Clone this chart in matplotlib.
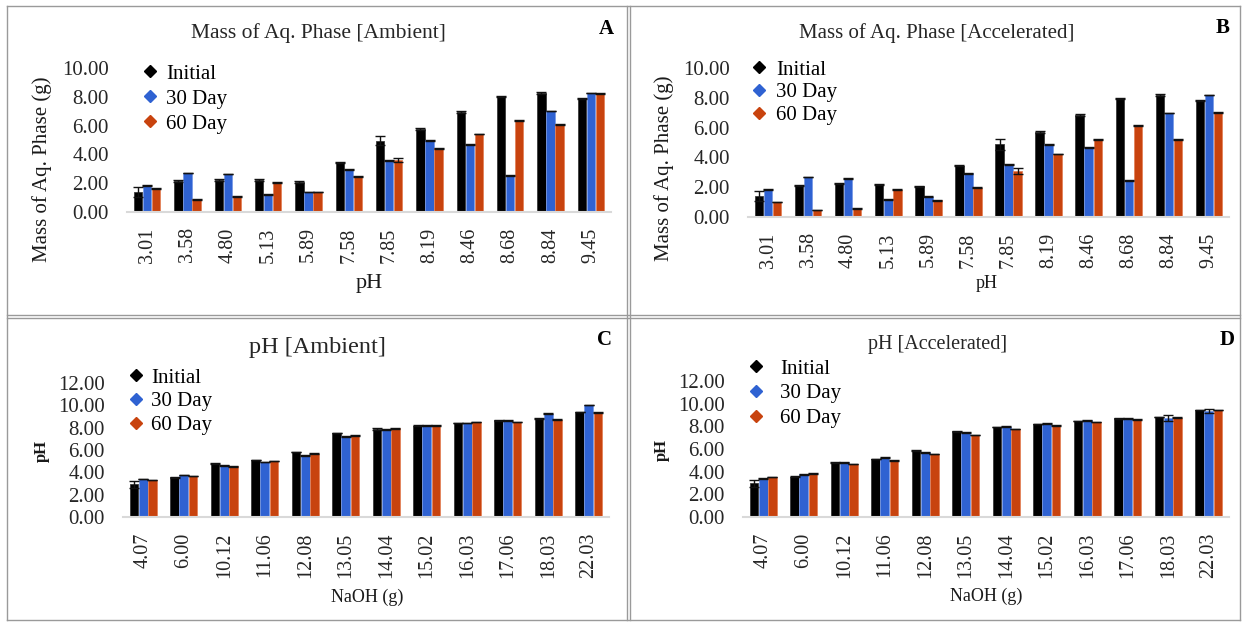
import numpy as np
import matplotlib
matplotlib.use('Agg')
import matplotlib.pyplot as plt
from matplotlib.lines import Line2D

plt.rcParams['font.family'] = ['Liberation Serif', 'DejaVu Serif']

# ---- data ----
ph_labels = ['3.01', '3.58', '4.80', '5.13', '5.89', '7.58', '7.85', '8.19', '8.46', '8.68', '8.84', '9.45']
naoh_labels = ['4.07', '6.00', '10.12', '11.06', '12.08', '13.05', '14.04', '15.02', '16.03', '17.06', '18.03', '22.03']
series_names = ['Initial', '30 Day', '60 Day']

# A: mass of aq. phase, ambient
mass_amb_init = [1.39, 2.15, 2.22, 2.22, 2.08, 3.45, 4.95, 5.76, 6.94, 8.01, 8.26, 7.89]
mass_amb_30 = [1.85, 2.71, 2.64, 1.20, 1.39, 2.94, 3.59, 4.98, 4.68, 2.52, 7.01, 8.26]
mass_amb_60 = [1.62, 0.88, 1.09, 2.04, 1.39, 2.45, 3.62, 4.42, 5.42, 6.34, 6.09, 8.22]
mass_amb_init_err = [0.37, 0.04, 0.04, 0.04, 0.04, 0.04, 0.30, 0.04, 0.04, 0.04, 0.04, 0.04]
mass_amb_30_err = [0.02, 0.02, 0.02, 0.02, 0.02, 0.02, 0.02, 0.02, 0.02, 0.02, 0.02, 0.02]
mass_amb_60_err = [0.03, 0.03, 0.03, 0.03, 0.03, 0.03, 0.15, 0.03, 0.03, 0.03, 0.03, 0.03]

# B: mass of aq. phase, accelerated
mass_acc_init = [1.41, 2.13, 2.24, 2.17, 2.06, 3.45, 4.88, 5.70, 6.85, 7.94, 8.19, 7.83]
mass_acc_30 = [1.86, 2.68, 2.57, 1.19, 1.36, 2.93, 3.51, 4.88, 4.65, 2.46, 6.98, 8.19]
mass_acc_60 = [1.01, 0.47, 0.56, 1.83, 1.12, 1.95, 3.09, 4.23, 5.21, 6.13, 5.21, 7.02]
mass_acc_init_err = [0.31, 0.04, 0.04, 0.04, 0.04, 0.04, 0.36, 0.04, 0.04, 0.04, 0.04, 0.04]
mass_acc_30_err = [0.02, 0.02, 0.02, 0.02, 0.02, 0.02, 0.02, 0.02, 0.02, 0.02, 0.02, 0.02]
mass_acc_60_err = [0.03, 0.03, 0.03, 0.03, 0.03, 0.03, 0.20, 0.03, 0.03, 0.03, 0.03, 0.03]

# C: pH, ambient
ph_amb_init = [2.93, 3.55, 4.78, 5.10, 5.82, 7.52, 7.88, 8.18, 8.42, 8.66, 8.81, 9.40]
ph_amb_30 = [3.40, 3.76, 4.63, 4.93, 5.52, 7.22, 7.85, 8.18, 8.42, 8.66, 9.25, 10.03]
ph_amb_60 = [3.31, 3.67, 4.54, 5.01, 5.67, 7.31, 7.94, 8.18, 8.51, 8.51, 8.72, 9.34]
ph_amb_init_err = [0.30, 0.03, 0.03, 0.03, 0.03, 0.03, 0.10, 0.03, 0.03, 0.03, 0.03, 0.03]
ph_amb_30_err = [0.02, 0.02, 0.02, 0.02, 0.02, 0.02, 0.02, 0.02, 0.02, 0.02, 0.02, 0.02]
ph_amb_60_err = [0.02, 0.02, 0.02, 0.02, 0.02, 0.02, 0.02, 0.02, 0.02, 0.02, 0.02, 0.02]

# D: pH, accelerated
ph_acc_init = [2.96, 3.55, 4.78, 5.13, 5.89, 7.57, 7.95, 8.21, 8.48, 8.71, 8.83, 9.44]
ph_acc_30 = [3.40, 3.78, 4.81, 5.22, 5.72, 7.42, 7.95, 8.24, 8.53, 8.71, 8.74, 9.33]
ph_acc_60 = [3.55, 3.84, 4.66, 4.99, 5.57, 7.24, 7.77, 8.09, 8.39, 8.62, 8.77, 9.44]
ph_acc_init_err = [0.30, 0.03, 0.03, 0.03, 0.03, 0.03, 0.03, 0.03, 0.03, 0.03, 0.03, 0.03]
ph_acc_30_err = [0.04, 0.04, 0.04, 0.04, 0.04, 0.04, 0.04, 0.04, 0.04, 0.04, 0.30, 0.17]
ph_acc_60_err = [0.02, 0.02, 0.02, 0.02, 0.02, 0.02, 0.02, 0.02, 0.02, 0.02, 0.02, 0.02]

colors = ['#000000', '#2F62D2', '#C8430E']
edges = ['#3a3a3a', '#7a9be6', '#e3835a']

W, H = 1244, 623
fig = plt.figure(figsize=(W / 100, H / 100), dpi=100)


def box(l, t, r, b):
    # axes rectangle from pixel edges
    return [l / W, 1 - b / H, (r - l) / W, (b - t) / H]


def ftext(x, y, s, **kw):
    fig.text(x / W, 1 - y / H, s, ha='center', va='center', **kw)


def panel(rect, labels, vals, errs, ymax, title, title_xy, title_fs,
          letter_xy, letter, ylabel, ylabel_xy, ylabel_fs, ylabel_bold,
          xlabel, xlabel_xy, xlabel_fs, leg_xy, leg_pad, leg_space):
    ax = fig.add_axes(box(*rect))
    x = np.arange(len(labels))
    w = 0.21
    offs = [-0.225, 0, 0.225]
    for i in range(3):
        ax.bar(x + offs[i], vals[i], w, color=colors[i], edgecolor=edges[i], linewidth=0.6,
               yerr=errs[i], error_kw=dict(ecolor='#111111', elinewidth=1.0, capsize=3.5, capthick=1.0),
               zorder=2)
    yt = np.arange(0, ymax + 0.01, 2)
    ax.set_xlim(-0.5, len(labels) - 0.5)
    ax.set_ylim(0, ymax)
    ax.set_yticks(yt)
    ax.set_yticklabels(['{0:.2f}'.format(v) for v in yt], fontsize=15)
    ax.set_xticks(x)
    ax.set_xticklabels(labels, rotation=90, fontsize=14.5)
    ax.tick_params(axis='y', length=0, pad=13, colors='#262626')
    ax.tick_params(axis='x', length=0, pad=11, colors='#262626')
    for s in ['top', 'right', 'left']:
        ax.spines[s].set_visible(False)
    ax.spines['bottom'].set_color('#D9D9D9')
    ax.spines['bottom'].set_linewidth(1.5)
    ax.patch.set_alpha(0)

    ftext(title_xy[0], title_xy[1], title, fontsize=title_fs, color='#262626')
    ftext(letter_xy[0], letter_xy[1], letter, fontsize=15, fontweight='bold')
    fig.text(ylabel_xy[0] / W, 1 - ylabel_xy[1] / H, ylabel, ha='center', va='center', rotation=90,
             fontsize=ylabel_fs, fontweight='bold' if ylabel_bold else 'normal', color='#1a1a1a')
    ftext(xlabel_xy[0], xlabel_xy[1], xlabel, fontsize=xlabel_fs, color='#1a1a1a')

    handles = [Line2D([], [], marker='D', linestyle='none', markersize=6.5,
                      markerfacecolor=c, markeredgecolor=c) for c in colors]
    ax.legend(handles, series_names, loc='upper left', bbox_to_anchor=(leg_xy[0] / W, 1 - leg_xy[1] / H),
              bbox_transform=fig.transFigure, frameon=False, fontsize=15, borderpad=0,
              handlelength=1.0, handletextpad=leg_pad, labelspacing=leg_space, borderaxespad=0)
    return ax


panel((127, 68, 611, 212), ph_labels,
      [mass_amb_init, mass_amb_30, mass_amb_60],
      [mass_amb_init_err, mass_amb_30_err, mass_amb_60_err],
      10, 'Mass of Aq. Phase [Ambient]', (318, 33), 15.5, (606, 29), 'A',
      'Mass of Aq. Phase (g)', (42, 169), 15, False, 'pH', (369, 283), 16, (140, 64), 0.27, 0.26)

panel((748, 68, 1229, 217), ph_labels,
      [mass_acc_init, mass_acc_30, mass_acc_60],
      [mass_acc_init_err, mass_acc_30_err, mass_acc_60_err],
      10, 'Mass of Aq. Phase [Accelerated]', (937, 33), 15, (1223, 28), 'B',
      'Mass of Aq. Phase (g)', (664, 168), 15, False, 'pH', (987, 284), 13, (749, 60), 0.3, 0.16)

panel((123, 383, 609, 517), naoh_labels,
      [ph_amb_init, ph_amb_30, ph_amb_60],
      [ph_amb_init_err, ph_amb_30_err, ph_amb_60_err],
      12, 'pH [Ambient]', (317, 348), 17.5, (605, 340), 'C',
      'pH', (42, 451), 12, True, 'NaOH (g)', (367, 597), 13, (126, 368), 0.22, 0.2)

panel((743, 381, 1229, 517), naoh_labels,
      [ph_acc_init, ph_acc_30, ph_acc_60],
      [ph_acc_init_err, ph_acc_30_err, ph_acc_60_err],
      12, 'pH [Accelerated]', (938, 345), 14.5, (1227, 340), 'D',
      'pH', (662, 450), 12, True, 'NaOH (g)', (986, 596), 13, (746, 359), 0.65, 0.25)

# table-like panel borders
grid = '#9a9a9a'
for xx in [7, 627, 630, 1240]:
    fig.add_artist(Line2D([xx / W, xx / W], [1 - 6 / H, 1 - 620 / H], color=grid, lw=1.0))
for yy in [6, 315, 318, 620]:
    fig.add_artist(Line2D([7 / W, 1240 / W], [1 - yy / H, 1 - yy / H], color=grid, lw=1.0))

fig.savefig('out.png', dpi=100, facecolor='white')
